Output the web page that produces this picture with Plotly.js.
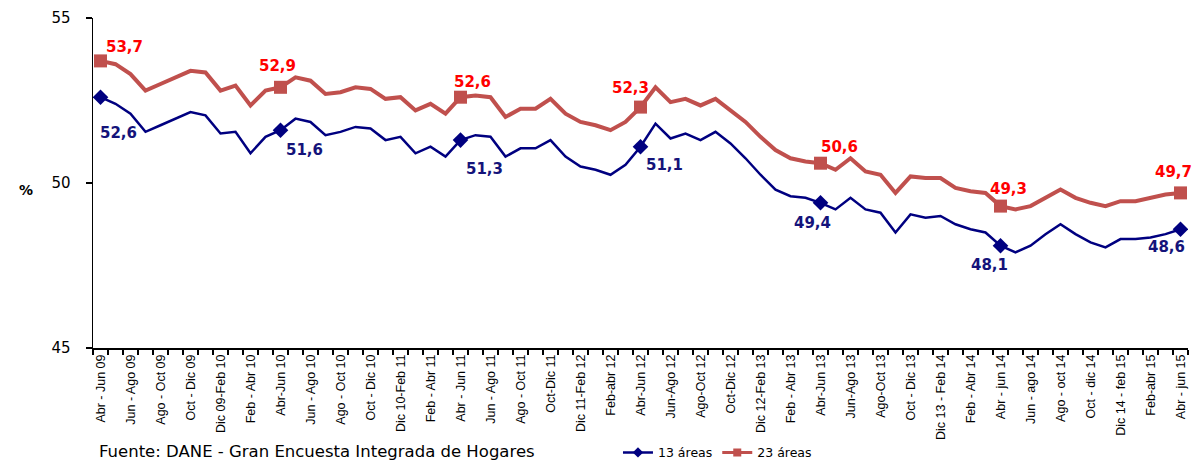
<!DOCTYPE html>
<html>
<head>
<meta charset="utf-8">
<script src="https://cdn.plot.ly/plotly-3.0.1.min.js"></script>
<style>html,body{margin:0;padding:0;background:#fff;}#chart{width:1193px;height:462px;}</style>
</head>
<body>
<div id="chart"></div>
<script>
const categories = [
"Abr - Jun 09","May - Jul 09","Jun - Ago 09","Jul - Sep 09","Ago - Oct 09","Sep - Nov 09","Oct - Dic 09","Nov 09 - Ene 10",
"Dic 09-Feb 10","Ene - Mar 10","Feb - Abr 10","Mar - May 10","Abr-Jun 10","May - Jul 10","Jun - Ago 10","Jul - Sep 10",
"Ago - Oct 10","Sep - Nov 10","Oct - Dic 10","Nov 10 - Ene 11","Dic 10-Feb 11","Ene - Mar 11","Feb - Abr 11","Mar - May 11",
"Abr - Jun 11","May - Jul 11","Jun - Ago 11","Jul - Sep 11","Ago - Oct 11","Sep - Nov 11","Oct-Dic 11","Nov 11 - Ene 12",
"Dic 11-Feb 12","Ene - Mar 12","Feb-abr 12","Mar - May 12","Abr-Jun 12","May - Jul 12","Jun-Ago 12","Jul - Sep 12",
"Ago-Oct 12","Sep - Nov 12","Oct-Dic 12","Nov 12 - Ene 13","Dic 12-Feb 13","Ene - Mar 13","Feb - Abr 13","Mar - May 13",
"Abr-Jun 13","May - Jul 13","Jun-Ago 13","Jul - Sep 13","Ago-Oct 13","Sep - Nov 13","Oct - Dic 13","Nov 13 - Ene 14",
"Dic 13 - Feb 14","Ene - Mar 14","Feb - Abr 14","Mar - May 14","Abr - jun 14","May - Jul 14","Jun - ago 14","Jul - Sep 14",
"Ago - oct 14","Sep - Nov 14","Oct - dic 14","Nov 14 - Ene 15","Dic 14 - feb 15","Ene - Mar 15","Feb-abr 15","Mar - May 15",
"Abr - jun 15"];

// every other category carries a visible tick label
const tickLabels = categories.map((c, i) => (i % 2 === 0 ? c : ""));

const areas13 = [
52.6,52.4,52.1,51.55,51.75,51.95,52.15,52.05,51.5,51.55,50.9,51.4,51.6,51.95,51.85,51.45,51.55,51.7,51.65,51.3,
51.4,50.9,51.1,50.8,51.3,51.45,51.4,50.8,51.05,51.05,51.3,50.8,50.5,50.4,50.25,50.55,51.1,51.8,51.35,51.5,
51.3,51.55,51.2,50.75,50.25,49.8,49.6,49.55,49.4,49.2,49.55,49.2,49.1,48.5,49.05,48.95,49.0,48.75,48.6,48.5,
48.1,47.9,48.1,48.45,48.75,48.45,48.2,48.05,48.3,48.3,48.35,48.45,48.6];

const areas23 = [
53.7,53.6,53.3,52.8,53.0,53.2,53.4,53.35,52.8,52.95,52.35,52.8,52.9,53.2,53.1,52.7,52.75,52.9,52.85,52.55,
52.6,52.2,52.4,52.1,52.6,52.65,52.6,52.0,52.25,52.25,52.55,52.1,51.85,51.75,51.6,51.85,52.3,52.9,52.45,52.55,
52.35,52.55,52.2,51.85,51.4,51.0,50.75,50.65,50.6,50.4,50.75,50.35,50.25,49.7,50.2,50.15,50.15,49.85,49.75,49.7,
49.3,49.2,49.3,49.55,49.8,49.55,49.4,49.3,49.45,49.45,49.55,49.65,49.7];

// indices of highlighted (Abr - Jun) points
const markedIdx = [0, 12, 24, 36, 48, 60, 72];

const seriesNames = ["13 áreas", "23 áreas"];
const yTicks = [45, 50, 55];

// label offsets in pixels (dx right, dy down) — styling only
const off13 = [[18,36],[24,20],[24,29],[24,18],[-8,20],[-11,19],[-14,18]];
const off23 = [[24,-14],[-3,-21],[12,-15],[-10,-19],[19,-16],[8,-17],[-7,-21]];

const BLUE = "#000080", RED = "#C0504D";

function lineTrace(vals, color, width) {
  return {x: categories, y: vals, type: "scatter", mode: "lines",
    line: {color: color, width: width}, showlegend: false, hoverinfo: "skip"};
}
function markerTrace(vals, color, symbol, size) {
  return {x: markedIdx.map(i => categories[i]), y: markedIdx.map(i => vals[i]),
    type: "scatter", mode: "markers", marker: {color: color, symbol: symbol, size: size},
    showlegend: false, hoverinfo: "skip"};
}
function legendTrace(name, color, width, symbol, size) {
  return {x: [null], y: [null], type: "scatter", mode: "lines+markers", name: name,
    line: {color: color, width: width}, marker: {color: color, symbol: symbol, size: size}};
}

const traces = [
  lineTrace(areas23, RED, 4),
  lineTrace(areas13, BLUE, 2.5),
  markerTrace(areas23, RED, "square", 13),
  markerTrace(areas13, BLUE, "diamond", 12),
  legendTrace(seriesNames[0], BLUE, 2.5, "diamond", 8),
  legendTrace(seriesNames[1], RED, 3, "square", 8)
];

function labelAnn(vals, offs, color) {
  return markedIdx.map((i, k) => ({
    x: categories[i], y: vals[i], xref: "x", yref: "y",
    text: vals[i].toFixed(1).replace(".", ","), showarrow: false,
    xshift: offs[k][0], yshift: -offs[k][1],
    font: {family: "DejaVu Sans", size: 15, color: color, weight: "bold"}
  }));
}

const annotations = [].concat(
  labelAnn(areas23, off23, "#FF0000"),
  labelAnn(areas13, off13, "#14137A"),
  [{xref: "paper", yref: "paper", x: -0.0694, y: 0.479, text: "%", showarrow: false,
    font: {family: "DejaVu Sans", size: 14, color: "#000", weight: "bold"}},
   {xref: "paper", yref: "paper", x: 0.0037, y: -0.279, xanchor: "left", yanchor: "top",
    text: "Fuente: DANE - Gran Encuesta Integrada de Hogares", showarrow: false,
    font: {family: "DejaVu Sans", size: 16.5, color: "#000"}}]
);

const layout = {
  width: 1193, height: 462,
  margin: {l: 93, r: 5, t: 18, b: 114},
  paper_bgcolor: "#fff", plot_bgcolor: "#fff",
  showlegend: true,
  legend: {orientation: "h", xref: "container", yref: "container", x: 0.518, y: 0.02,
    xanchor: "left", yanchor: "middle",
    font: {family: "DejaVu Sans", size: 12.5, color: "#000"}, itemgap: 46, bgcolor: "rgba(0,0,0,0)"},
  xaxis: {type: "category", range: [-0.5, 72.5], tickmode: "array",
    tickvals: categories, ticktext: tickLabels, tickson: "boundaries",
    ticks: "outside", ticklen: 5, tickwidth: 1.2, tickcolor: "#000", tickangle: -90,
    tickfont: {family: "Liberation Sans", size: 12.5, color: "#000"},
    showline: true, linecolor: "#000", linewidth: 1.5, showgrid: false, zeroline: false, fixedrange: true},
  yaxis: {range: [45, 55], tickmode: "array", tickvals: yTicks, ticktext: yTicks.map(String),
    ticks: "outside", ticklen: 6, tickwidth: 1.2, tickcolor: "#000", ticklabelstandoff: 12,
    tickfont: {family: "DejaVu Sans", size: 15, color: "#000"},
    showline: true, linecolor: "#000", linewidth: 1.5, showgrid: false, zeroline: false, fixedrange: true},
  annotations: annotations
};

Plotly.newPlot("chart", traces, layout, {staticPlot: true, displayModeBar: false});
</script>
</body>
</html>
